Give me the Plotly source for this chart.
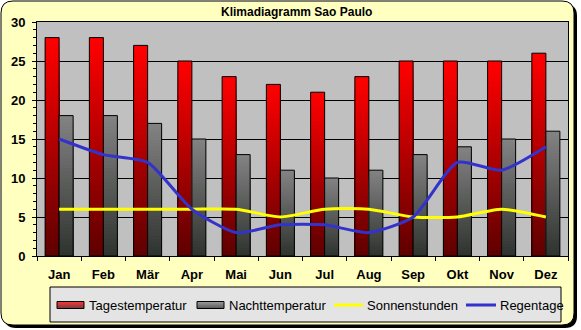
import plotly.graph_objects as go

# Monthly climate values for São Paulo
months = ["Jan", "Feb", "Mär", "Apr", "Mai", "Jun", "Jul", "Aug", "Sep", "Okt", "Nov", "Dez"]
tagestemperatur = [28, 28, 27, 25, 23, 22, 21, 23, 25, 25, 25, 26]
nachttemperatur = [18, 18, 17, 15, 13, 11, 10, 11, 13, 14, 15, 16]
sonnenstunden = [6, 6, 6, 6, 6, 5, 6, 6, 5, 5, 6, 5]
regentage = [15, 13, 12, 6, 3, 4, 4, 3, 5, 12, 11, 14]
y_ticks = [0, 5, 10, 15, 20, 25, 30]

W, H = 581, 330
L, R, T, B = 37, 568, 22, 256  # plot area in pixels
FONT = "Arial, Liberation Sans, sans-serif"

RED_TOP, RED_BOTTOM = (255, 0, 0), (96, 0, 0)
GREY_TOP, GREY_BOTTOM = (130, 130, 130), (48, 52, 48)


def px(x):
    return (x - L) / (R - L)


def py(y):
    return (B - y) / (B - T)


def mix(c0, c1, t):
    return "rgb(%d,%d,%d)" % tuple(round(a + (b - a) * t) for a, b in zip(c0, c1))


def rounded_path(x0, y0, x1, y1, r):
    return (
        f"M {px(x0 + r)},{py(y0)} L {px(x1 - r)},{py(y0)} "
        f"Q {px(x1)},{py(y0)} {px(x1)},{py(y0 + r)} L {px(x1)},{py(y1 - r)} "
        f"Q {px(x1)},{py(y1)} {px(x1 - r)},{py(y1)} L {px(x0 + r)},{py(y1)} "
        f"Q {px(x0)},{py(y1)} {px(x0)},{py(y1 - r)} L {px(x0)},{py(y0 + r)} "
        f"Q {px(x0)},{py(y0)} {px(x0 + r)},{py(y0)} Z"
    )


fig = go.Figure()


def gradient_bars(values, group, top, bottom, name, n=40):
    # overlapping bars, each a little shorter and darker, give a top-to-bottom shade
    for k in range(n):
        frac = (n - k) / n
        col = mix(top, bottom, k / (n - 1))
        fig.add_bar(
            x=months, y=[v * frac for v in values],
            offsetgroup=group, marker=dict(color=col, line=dict(width=0)),
            showlegend=False, hoverinfo="skip",
        )
    fig.add_bar(
        x=months, y=values, offsetgroup=group, name=name, showlegend=False,
        marker=dict(color="rgba(0,0,0,0)", line=dict(color="black", width=1)),
    )


gradient_bars(tagestemperatur, "tag", RED_TOP, RED_BOTTOM, "Tagestemperatur")
gradient_bars(nachttemperatur, "nacht", GREY_TOP, GREY_BOTTOM, "Nachttemperatur")

fig.add_scatter(x=months, y=sonnenstunden, mode="lines", name="Sonnenstunden",
                line=dict(color="#FFFF00", width=3, shape="spline", smoothing=0.6),
                showlegend=False)
fig.add_scatter(x=months, y=regentage, mode="lines", name="Regentage",
                line=dict(color="#3333CC", width=3, shape="spline", smoothing=0.6),
                showlegend=False)

shapes = [
    # drop shadow and rounded chart frame
    dict(type="path", path=rounded_path(4, 4, 577, 328, 12), xref="paper", yref="paper",
         fillcolor="black", line=dict(width=0), layer="below"),
    dict(type="path", path=rounded_path(1, 1, 574, 325, 12), xref="paper", yref="paper",
         fillcolor="#FFFFC0", line=dict(color="black", width=1), layer="below"),
    # plot area background
    dict(type="rect", xref="paper", yref="paper", x0=0, x1=1, y0=0, y1=1,
         fillcolor="#C0C0C0", line=dict(width=0), layer="below"),
    # legend box
    dict(type="rect", xref="paper", yref="paper", x0=px(50), x1=px(561), y0=py(287), y1=py(322),
         fillcolor="#E4E4E4", line=dict(color="black", width=1), layer="below"),
]

annotations = [
    dict(text="Klimadiagramm Sao Paulo", xref="paper", yref="paper", x=px(296), y=py(12.5),
         xanchor="center", yanchor="middle", showarrow=False,
         font=dict(family=FONT, size=12, color="black", weight="bold")),
]

# legend entries: swatch + label
LEG_Y = 305
sw_top, sw_bot = LEG_Y - 3.5, LEG_Y + 3.5
for x0, top, bottom in [(57, RED_TOP, RED_BOTTOM), (197, GREY_TOP, GREY_BOTTOM)]:
    steps = 7
    for i in range(steps):
        ya = sw_top + (sw_bot - sw_top) * i / steps
        yb = sw_top + (sw_bot - sw_top) * (i + 1) / steps
        shapes.append(dict(type="rect", xref="paper", yref="paper", x0=px(x0), x1=px(x0 + 27),
                           y0=py(yb), y1=py(ya), fillcolor=mix(top, bottom, i / (steps - 1)),
                           line=dict(width=0), layer="above"))
    shapes.append(dict(type="rect", xref="paper", yref="paper", x0=px(x0), x1=px(x0 + 27),
                       y0=py(sw_bot), y1=py(sw_top), line=dict(color="black", width=1),
                       layer="above"))
for x0, x1, col in [(334, 363, "#FFFF00"), (466, 496, "#3333CC")]:
    shapes.append(dict(type="line", xref="paper", yref="paper", x0=px(x0), x1=px(x1),
                       y0=py(LEG_Y), y1=py(LEG_Y), line=dict(color=col, width=3), layer="above"))

for x0, label in [(87, "Tagestemperatur"), (227, "Nachttemperatur"),
                  (365, "Sonnenstunden"), (498, "Regentage")]:
    annotations.append(dict(text=label, xref="paper", yref="paper", x=px(x0), y=py(LEG_Y),
                            xanchor="left", yanchor="middle", showarrow=False,
                            font=dict(family=FONT, size=13, color="black")))

fig.update_layout(
    width=W, height=H, margin=dict(l=L, r=W - R, t=T, b=H - B),
    paper_bgcolor="white", plot_bgcolor="#C0C0C0",
    barmode="group", bargap=0.367, bargroupgap=0,
    showlegend=False, shapes=shapes, annotations=annotations,
    font=dict(family=FONT, color="black"),
    xaxis=dict(
        type="category", range=[-0.5, 11.5], showline=True, linecolor="black", linewidth=1,
        mirror=True, ticks="outside", tickson="boundaries", ticklen=4, tickcolor="black",
        showgrid=False, tickfont=dict(family=FONT, size=13, weight="bold", color="black"),
        ticklabelstandoff=6,
    ),
    yaxis=dict(
        range=[0, 30], tickvals=y_ticks, showline=True, linecolor="black", linewidth=1,
        mirror=True, ticks="outside", ticklen=4, tickcolor="black",
        showgrid=True, gridcolor="black", gridwidth=1, zeroline=False,
        minor=dict(dtick=1, ticks="outside", ticklen=3, tickcolor="black", showgrid=False),
        tickfont=dict(family=FONT, size=13, weight="bold", color="black"),
        ticklabelstandoff=4,
    ),
)

fig.write_html("out.html")
